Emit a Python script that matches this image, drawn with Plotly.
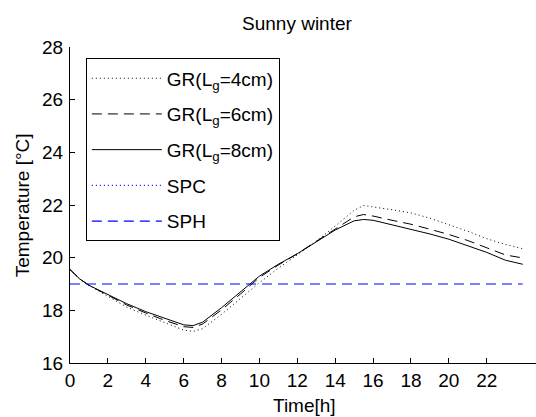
import plotly.graph_objects as go
import numpy as np

# ---- data ----
time_h = [0, 0.5, 1, 2, 3, 4, 5, 6, 6.5, 7, 8, 9, 10, 11, 12, 13, 14, 15, 15.5,
          16, 17, 18, 19, 20, 21, 22, 23, 23.9]
gr_4cm = [19.55, 19.2, 18.95, 18.55, 18.12, 17.82, 17.52, 17.25, 17.2, 17.3, 17.85,
          18.45, 19.05, 19.6, 20.1, 20.62, 21.2, 21.8, 21.98, 21.93, 21.82, 21.7,
          21.5, 21.25, 21.0, 20.72, 20.5, 20.34]
gr_6cm = [19.55, 19.2, 18.95, 18.58, 18.2, 17.9, 17.62, 17.38, 17.35, 17.48, 18.02,
          18.62, 19.25, 19.72, 20.15, 20.62, 21.1, 21.55, 21.64, 21.58, 21.42, 21.27,
          21.08, 20.88, 20.65, 20.38, 20.1, 19.99]
gr_8cm = [19.55, 19.2, 18.95, 18.6, 18.25, 17.95, 17.7, 17.45, 17.42, 17.55, 18.1,
          18.7, 19.3, 19.75, 20.15, 20.6, 21.05, 21.4, 21.45, 21.42, 21.25, 21.08,
          20.9, 20.7, 20.45, 20.2, 19.9, 19.75]
spc = [np.nan] * len(time_h)          # cooling set point: not visible in plot range
sph = [19.0] * len(time_h)            # heating set point

x_ticks = [0, 2, 4, 6, 8, 10, 12, 14, 16, 18, 20, 22]
y_ticks = [16, 18, 20, 22, 24, 26, 28]

FONT = "Liberation Sans, Arial, sans-serif"
FS = 19

fig = go.Figure()
series = [
    ("GR(L<sub>g</sub>=4cm)", gr_4cm, "black", "1px,3px", 1),
    ("GR(L<sub>g</sub>=6cm)", gr_6cm, "black", "10px,6px", 1),
    ("GR(L<sub>g</sub>=8cm)", gr_8cm, "black", "solid", 1),
    ("SPC", spc, "#0000ff", "1px,3px", 1.2),
    ("SPH", sph, "#0000ff", "10px,6px", 1.2),
]
for i, (name, vals, col, dash, w) in enumerate(series):
    fig.add_trace(go.Scatter(
        x=time_h, y=vals, mode="lines", name=name,
        line=dict(color=col, width=w, dash=dash),
        legendgroup=f"g{i}", connectgaps=False,
    ))

fig.update_layout(
    width=536, height=417,
    margin=dict(l=70, r=0, t=47, b=54),
    paper_bgcolor="white", plot_bgcolor="white",
    font=dict(family=FONT, size=FS, color="black"),
    showlegend=True,
    legend=dict(
        x=0.034, y=0.964, xanchor="left", yanchor="top",
        bgcolor="white", bordercolor="black", borderwidth=1,
        font=dict(family=FONT, size=FS, color="black"),
        tracegroupgap=8, itemwidth=70,
    ),
    title=dict(text="Sunny winter", x=0.487, xref="paper", xanchor="center",
               y=1 - 23 / 417, yref="container", yanchor="middle",
               font=dict(family=FONT, size=FS, color="black")),
)
fig.update_xaxes(
    range=[0, 24.6], tickvals=x_ticks, ticktext=[str(v) for v in x_ticks],
    ticks="inside", ticklen=5, tickcolor="black", tickwidth=1,
    showline=True, linecolor="black", linewidth=1, mirror=False,
    showgrid=False, zeroline=False, ticklabelstandoff=0,
    tickfont=dict(family=FONT, size=FS, color="black"),
)
fig.update_yaxes(
    range=[16, 28], tickvals=y_ticks, ticktext=[str(v) for v in y_ticks],
    ticks="inside", ticklen=5, tickcolor="black", tickwidth=1,
    showline=True, linecolor="black", linewidth=1, mirror=False,
    showgrid=False, zeroline=False, ticklabelstandoff=2,
    tickfont=dict(family=FONT, size=FS, color="black"),
)
fig.add_annotation(text="Time[h]", xref="paper", yref="paper",
                   x=(304 - 70) / 466, y=(362.7 - 405) / 316,
                   xanchor="center", yanchor="middle", showarrow=False,
                   font=dict(family=FONT, size=FS, color="black"))
fig.add_annotation(text="Temperature [°C]", xref="paper", yref="paper",
                   x=(22 - 70) / 466, y=(362.7 - 205) / 316, textangle=-90,
                   xanchor="center", yanchor="middle", showarrow=False,
                   font=dict(family=FONT, size=FS, color="black"))

fig.write_html("out.html",
               config={"displayModeBar": False},
               post_script="document.body.style.margin='0';"
                           "document.body.style.overflow='hidden';")
